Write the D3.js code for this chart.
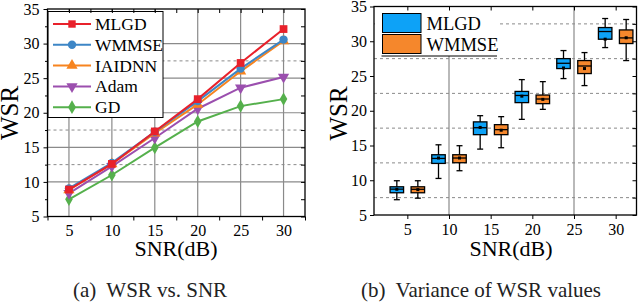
<!DOCTYPE html>
<html>
<head>
<meta charset="utf-8">
<script src="https://cdn.jsdelivr.net/npm/d3@7"></script>
<style>
  body { margin: 0; background: #fff; }
</style>
</head>
<body>
<script>
// ---- data: panel (a) WSR vs SNR
const snr = [5, 10, 15, 20, 25, 30];
const mlgd   = [8.9, 12.6, 17.3, 21.97, 27.2, 32.1];
const wmmse  = [9.07, 12.75, 17.25, 21.68, 26.38, 30.58];
const iaidnn = [8.84, 12.6, 17.05, 21.2, 25.99, 30.38];
const adam   = [8.35, 12.26, 16.35, 20.58, 23.62, 25.16];
const gd     = [7.48, 11.0, 14.95, 18.74, 20.96, 21.97];

const seriesNames = ["MLGD", "WMMSE", "IAIDNN", "Adam", "GD"];
const seriesColors = ["#e8212b", "#3d86c6", "#f7841f", "#9b4fae", "#55b04c"];
const seriesShapes = [d3.symbolSquare, d3.symbolCircle, d3.symbolTriangle, "down", d3.symbolDiamond];

// ---- data: panel (b) box stats [whiskerLow, q1, median, q3, whiskerHigh, mean]
const boxNames = ["MLGD", "WMMSE"];
const boxColors = ["#0da2f7", "#f5872c"];
const mlgdBox = [
  [7.2, 8.2, 8.72, 9.06, 9.93, 8.7],
  [10.26, 12.42, 13.14, 13.67, 15.1, 13.2],
  [14.48, 16.56, 17.56, 18.4, 19.29, 17.6],
  [18.76, 21.17, 22.2, 22.78, 24.48, 22.1],
  [24.63, 26.07, 26.83, 27.5, 28.66, 26.15],
  [29.09, 30.29, 31.4, 31.97, 33.27, 30.3]
];
const wmmseBox = [
  [7.42, 8.2, 8.7, 9.06, 9.93, 8.65],
  [11.37, 12.52, 13.2, 13.67, 14.97, 13.2],
  [14.68, 16.56, 17.28, 18.0, 19.15, 17.2],
  [20.2, 21.02, 21.69, 22.26, 24.19, 21.64],
  [23.62, 25.35, 26.44, 27.22, 28.37, 26.07],
  [27.22, 29.67, 30.48, 31.63, 33.13, 30.5]
];

const majorX = [5, 10, 15, 20, 25, 30];
const yMajor = [5, 10, 15, 20, 25, 30, 35];
const yMinor = [7.5, 12.5, 17.5, 22.5, 27.5, 32.5];

const FONT = "Liberation Serif";

const svg = d3.select("body").append("svg")
  .attr("width", 638).attr("height", 302)
  .attr("font-family", FONT);

function frameAxes(g, x, y, opts) {
  const [x0, x1] = x.range();
  const [y0, y1] = y.range();
  // tick labels
  g.append("g").attr("transform", `translate(0,${y0})`)
    .call(d3.axisBottom(x).tickValues(majorX).tickSize(0).tickPadding(opts.padX).tickFormat(d3.format("d")))
    .call(a => a.select(".domain").remove());
  g.append("g").attr("transform", `translate(${x0},0)`)
    .call(d3.axisLeft(y).tickValues(yMajor).tickSize(4).tickPadding(opts.padY).tickFormat(d3.format("d")))
    .call(a => a.select(".domain").remove());
  if (opts.leftMinor) {
    g.append("g").attr("transform", `translate(${x0},0)`)
      .call(d3.axisLeft(y).tickValues(yMinor).tickSize(2.5).tickFormat(""))
      .call(a => a.select(".domain").remove());
  }
  g.append("g").attr("transform", `translate(0,${y0})`)
    .call(d3.axisBottom(x).tickValues(opts.bottomTicks).tickSize(4).tickFormat(""))
    .call(a => a.select(".domain").remove());
  g.append("g").attr("transform", `translate(0,${y1})`)
    .call(d3.axisBottom(x).tickValues(opts.topTicks).tickSize(4).tickFormat(""))
    .call(a => a.select(".domain").remove());
  g.append("g").attr("transform", `translate(${x1},0)`)
    .call(d3.axisRight(y).tickValues(yMajor.concat(yMinor)).tickSize(-4).tickFormat(""))
    .call(a => a.select(".domain").remove());
  g.selectAll("g").attr("font-family", FONT);
  g.selectAll(".tick text").attr("font-size", 16).attr("fill", "#000");
  g.selectAll(".tick line").attr("stroke", "#000").attr("stroke-width", 1);
  g.append("rect")
    .attr("x", x0).attr("y", y1).attr("width", x1 - x0).attr("height", y0 - y1)
    .attr("fill", "none").attr("stroke", "#000").attr("stroke-width", 1.3);
}

// ================= panel (a)
{
  const x = d3.scaleLinear().domain([2.5, 32.5]).range([47.5, 305]);
  const y = d3.scaleLinear().domain([5, 35]).range([216.5, 9]);
  const g = svg.append("g");

  // grid
  g.selectAll(".vg").data(majorX).enter().append("line")
    .attr("x1", d => x(d)).attr("x2", d => x(d)).attr("y1", y(35)).attr("y2", y(5))
    .attr("stroke", "#8a8a8a").attr("stroke-width", 1.2);
  g.selectAll(".hg").data([10, 15, 20, 25, 30]).enter().append("line")
    .attr("x1", x(2.5)).attr("x2", x(32.5)).attr("y1", d => y(d)).attr("y2", d => y(d))
    .attr("stroke", "#8a8a8a").attr("stroke-width", 1.2);
  g.selectAll(".hd").data([12.5, 17.5, 27.5]).enter().append("line")
    .attr("x1", x(2.5)).attr("x2", x(32.5)).attr("y1", d => y(d)).attr("y2", d => y(d))
    .attr("stroke", "#8a8a8a").attr("stroke-width", 1).attr("stroke-dasharray", "3,3");

  const all = [mlgd, wmmse, iaidnn, adam, gd];
  const line = d3.line().x((d, i) => x(snr[i])).y(d => y(d));
  // draw from back to front so MLGD sits on top
  [4, 3, 2, 1, 0].forEach(k => {
    g.append("path").datum(all[k]).attr("d", line)
      .attr("fill", "none").attr("stroke", seriesColors[k]).attr("stroke-width", 2);
    const shape = seriesShapes[k] === "down" ? d3.symbolTriangle : seriesShapes[k];
    const size = k === 0 ? 60 : (k === 4 ? 50 : 55);
    g.selectAll(null).data(all[k]).enter().append("path")
      .attr("d", d3.symbol().type(shape).size(size))
      .attr("transform", (d, i) => `translate(${x(snr[i])},${y(d)})` + (seriesShapes[k] === "down" ? " rotate(180)" : ""))
      .attr("fill", seriesColors[k]);
  });

  // legend
  const lg = g.append("g");
  lg.append("rect").attr("x", 48).attr("y", 11.5).attr("width", 115).attr("height", 106)
    .attr("fill", "#fff").attr("stroke", "#000").attr("stroke-width", 1);
  seriesNames.forEach((n, k) => {
    const yy = 24 + k * 20.8;
    lg.append("line").attr("x1", 53).attr("x2", 91).attr("y1", yy).attr("y2", yy)
      .attr("stroke", seriesColors[k]).attr("stroke-width", 2);
    const shape = seriesShapes[k] === "down" ? d3.symbolTriangle : seriesShapes[k];
    lg.append("path").attr("d", d3.symbol().type(shape).size(55))
      .attr("transform", `translate(72,${yy})` + (seriesShapes[k] === "down" ? " rotate(180)" : ""))
      .attr("fill", seriesColors[k]);
    lg.append("text").attr("x", 95).attr("y", yy + 6)
      .attr("font-size", 17.5).text(n);
  });

  frameAxes(g, x, y, {
    leftMinor: true, padX: 8, padY: 4,
    bottomTicks: [2.5, 7.5, 12.5, 17.5, 22.5, 27.5, 32.5],
    topTicks: [5, 7.5, 10, 12.5, 15, 17.5, 20, 22.5, 25, 27.5, 30]
  });

  g.append("text").attr("transform", "translate(17.5,113) rotate(-90)")
    .attr("text-anchor", "middle").attr("font-size", 25).text("WSR");
  g.append("text").attr("x", 176).attr("y", 255.5).attr("text-anchor", "middle")
    .attr("font-size", 22).text("SNR(dB)");
  g.append("text").attr("x", 150).attr("y", 296.5).attr("text-anchor", "middle")
    .attr("font-size", 21).attr("fill", "#222").attr("xml:space", "preserve").text("(a)  WSR vs. SNR");
}

// ================= panel (b)
{
  const x = d3.scaleLinear().domain([1, 32.5]).range([374, 636.5]);
  const y = d3.scaleLinear().domain([5, 35]).range([215, 6.5]);
  const g = svg.append("g");

  g.selectAll(".vg").data([10, 25]).enter().append("line")
    .attr("x1", d => x(d)).attr("x2", d => x(d)).attr("y1", y(35)).attr("y2", y(5))
    .attr("stroke", "#8a8a8a").attr("stroke-width", 1.2);
  g.selectAll(".hd").data(yMinor).enter().append("line")
    .attr("x1", x(1)).attr("x2", x(32.5)).attr("y1", d => y(d)).attr("y2", d => y(d))
    .attr("stroke", "#8a8a8a").attr("stroke-width", 1).attr("stroke-dasharray", "3,3");

  const off = 1.26; // group offset in SNR units
  const bw = 13.5, cap = 6;
  [mlgdBox, wmmseBox].forEach((stats, k) => {
    const cx = i => x(snr[i] + (k === 0 ? -off : off));
    const bg = g.selectAll(null).data(stats).enter().append("g");
    bg.append("line").attr("x1", (d, i) => cx(i)).attr("x2", (d, i) => cx(i))
      .attr("y1", d => y(d[0])).attr("y2", d => y(d[4])).attr("stroke", "#000").attr("stroke-width", 1.3);
    bg.append("line").attr("x1", (d, i) => cx(i) - cap / 2).attr("x2", (d, i) => cx(i) + cap / 2)
      .attr("y1", d => y(d[0])).attr("y2", d => y(d[0])).attr("stroke", "#000").attr("stroke-width", 1.3);
    bg.append("line").attr("x1", (d, i) => cx(i) - cap / 2).attr("x2", (d, i) => cx(i) + cap / 2)
      .attr("y1", d => y(d[4])).attr("y2", d => y(d[4])).attr("stroke", "#000").attr("stroke-width", 1.3);
    bg.append("rect").attr("x", (d, i) => cx(i) - bw / 2).attr("width", bw)
      .attr("y", d => y(d[3])).attr("height", d => y(d[1]) - y(d[3]))
      .attr("fill", boxColors[k]).attr("stroke", "#000").attr("stroke-width", 1.3);
    bg.append("line").attr("x1", (d, i) => cx(i) - bw / 2).attr("x2", (d, i) => cx(i) + bw / 2)
      .attr("y1", d => y(d[2])).attr("y2", d => y(d[2])).attr("stroke", "#000").attr("stroke-width", 1.3);
    bg.append("rect").attr("x", (d, i) => cx(i) - 1.5).attr("y", d => y(d[5]) - 1.5)
      .attr("width", 3).attr("height", 3).attr("fill", "#000");
  });

  // legend
  const lg = g.append("g");
  lg.append("rect").attr("x", 375).attr("y", 7).attr("width", 122).attr("height", 49).attr("fill", "#fff");
  lg.append("line").attr("x1", 381.5).attr("x2", 497).attr("y1", 56).attr("y2", 56)
    .attr("stroke", "#000").attr("stroke-width", 1);
  boxNames.forEach((n, k) => {
    const yy = 13.5 + k * 21;
    lg.append("rect").attr("x", 382.5).attr("y", yy).attr("width", 38.5).attr("height", 19)
      .attr("fill", boxColors[k]).attr("stroke", "#000").attr("stroke-width", 1);
    lg.append("text").attr("x", 426.5).attr("y", yy + 16)
      .attr("font-size", 18.5).text(n);
  });

  frameAxes(g, x, y, {
    leftMinor: false, padX: 9, padY: 3,
    bottomTicks: majorX,
    topTicks: majorX
  });

  g.append("text").attr("transform", "translate(346.5,113.5) rotate(-90)")
    .attr("text-anchor", "middle").attr("font-size", 25).text("WSR");
  g.append("text").attr("x", 511).attr("y", 255.5).attr("text-anchor", "middle")
    .attr("font-size", 22).text("SNR(dB)");
  g.append("text").attr("x", 481).attr("y", 296.5).attr("text-anchor", "middle")
    .attr("font-size", 21).attr("fill", "#222").attr("xml:space", "preserve").text("(b)  Variance of WSR values");
}
</script>
</body>
</html>
